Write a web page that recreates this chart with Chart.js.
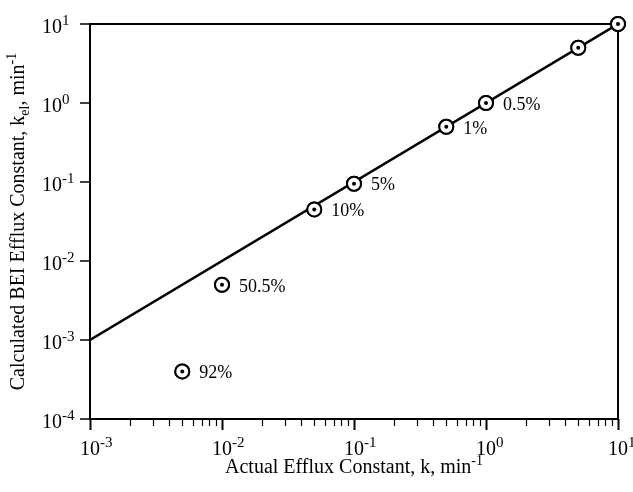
<!DOCTYPE html>
<html>
<head>
<meta charset="utf-8">
<script src="https://cdn.jsdelivr.net/npm/chart.js@4.4.1/dist/chart.umd.min.js"></script>
<style>
  html, body { margin: 0; padding: 0; background: #fff; }
  #wrap { width: 633px; height: 492px; }
</style>
</head>
<body>
<div id="wrap"><canvas id="c" width="633" height="492"></canvas></div>
<script>
// ---- data ----
const actualK     = [0.005, 0.01, 0.05, 0.1, 0.5, 1, 5, 10];
const calculatedK = [0.0004, 0.005, 0.045, 0.095, 0.5, 1, 5, 10];
const pointLabels = ['92%', '50.5%', '10%', '5%', '1%', '0.5%', '', ''];
const lineX = [0.001, 10];
const lineY = [0.001, 10];
const xTickExponents = [-3, -2, -1, 0, 1];
const yTickExponents = [-4, -3, -2, -1, 0, 1];
const xTitle = [{t: 'Actual Efflux Constant, k, min'}, {t: '-1', sup: true}];
const yTitle = [{t: 'Calculated BEI Efflux Constant, k'}, {t: 'el', sub: true}, {t: ', min'}, {t: '-1', sup: true}];

const FONT = '"Liberation Serif", "Times New Roman", serif';

const scatterPts = actualK.map((x, i) => ({x: x, y: calculatedK[i]}));
const linePts = lineX.map((x, i) => ({x: x, y: lineY[i]}));

function richWidth(ctx, segs, size, small) {
  let w = 0;
  for (const s of segs) {
    ctx.font = ((s.sup || s.sub) ? small : size) + 'px ' + FONT;
    w += ctx.measureText(s.t).width;
  }
  return w;
}
function drawRich(ctx, segs, x, y, size, small) {
  for (const s of segs) {
    ctx.font = ((s.sup || s.sub) ? small : size) + 'px ' + FONT;
    let dy = 0;
    if (s.sup) dy = -size * 0.42;
    if (s.sub) dy = size * 0.25;
    ctx.fillText(s.t, x, y + dy);
    x += ctx.measureText(s.t).width;
  }
}

const decor = {
  id: 'decor',
  afterDraw(chart) {
    const ctx = chart.ctx;
    const xs = chart.scales.x, ys = chart.scales.y;
    const ca = chart.chartArea;
    ctx.save();
    ctx.strokeStyle = '#000';
    ctx.fillStyle = '#000';
    ctx.lineCap = 'butt';

    // y ticks (major, outward left)
    ctx.lineWidth = 1.5;
    for (const e of yTickExponents) {
      const py = Math.round(ys.getPixelForValue(Math.pow(10, e)));
      ctx.beginPath(); ctx.moveTo(ca.left - 10, py); ctx.lineTo(ca.left, py); ctx.stroke();
    }
    // x ticks: major + minor downward
    for (let e = -3; e <= 1; e++) {
      for (let m = 1; m <= 9; m++) {
        const v = m * Math.pow(10, e);
        if (v > 10.0001) break;
        const px = Math.round(xs.getPixelForValue(v)) + 0.5;
        const len = (m === 1) ? 11 : 7;
        ctx.lineWidth = (m === 1) ? 2 : 1.2;
        ctx.beginPath(); ctx.moveTo(px, ca.bottom); ctx.lineTo(px, ca.bottom + len); ctx.stroke();
      }
    }

    // tick labels
    ctx.textBaseline = 'alphabetic';
    ctx.textAlign = 'left';
    const big = 20, small = 15;
    for (const e of yTickExponents) {
      const py = ys.getPixelForValue(Math.pow(10, e));
      drawRich(ctx, [{t: '10'}, {t: String(e), sup: true}], 42, py + 9, big, small);
    }
    for (const e of xTickExponents) {
      const px = xs.getPixelForValue(Math.pow(10, e));
      ctx.font = big + 'px ' + FONT;
      const bw = ctx.measureText('10').width;
      drawRich(ctx, [{t: '10'}, {t: String(e), sup: true}], px - bw / 2, ca.bottom + 36, big, small);
    }

    // axis titles
    const ts = 20, tsm = 14;
    const xw = richWidth(ctx, xTitle, ts, tsm);
    drawRich(ctx, xTitle, (ca.left + ca.right) / 2 - xw / 2, 473, ts, tsm);
    ctx.save();
    const yw = richWidth(ctx, yTitle, ts, tsm);
    ctx.translate(24, (ca.top + ca.bottom) / 2);
    ctx.rotate(-Math.PI / 2);
    drawRich(ctx, yTitle, -yw / 2, 0, ts, tsm);
    ctx.restore();

    // point labels
    const meta = chart.getDatasetMeta(1);
    ctx.font = '18px ' + FONT;
    ctx.textBaseline = 'middle';
    meta.data.forEach((el, i) => {
      if (pointLabels[i]) ctx.fillText(pointLabels[i], el.x + 17, el.y + 2);
    });
    ctx.restore();
  },
  afterDatasetsDraw(chart) {
    const ctx = chart.ctx;
    const ca = chart.chartArea;
    ctx.save();
    ctx.strokeStyle = '#000';
    ctx.lineWidth = 2;
    ctx.strokeRect(ca.left, ca.top, ca.right - ca.left, ca.bottom - ca.top);
    // redraw markers on top of frame, with centre dots
    const meta = chart.getDatasetMeta(1);
    meta.data.forEach((el) => {
      ctx.beginPath(); ctx.arc(el.x, el.y, 7, 0, Math.PI * 2);
      ctx.fillStyle = '#fff'; ctx.fill(); ctx.stroke();
      ctx.beginPath(); ctx.arc(el.x, el.y, 2, 0, Math.PI * 2);
      ctx.fillStyle = '#000'; ctx.fill();
    });
    ctx.restore();
  }
};

new Chart(document.getElementById('c'), {
  type: 'scatter',
  data: {
    datasets: [
      {
        type: 'line',
        data: linePts,
        borderColor: '#000',
        borderWidth: 2.5,
        pointRadius: 0,
        fill: false,
        tension: 0,
        order: 2
      },
      {
        data: scatterPts,
        pointRadius: 7,
        pointHoverRadius: 7,
        pointBackgroundColor: '#fff',
        pointBorderColor: '#000',
        pointBorderWidth: 2,
        clip: false,
        order: 1
      }
    ]
  },
  options: {
    responsive: false,
    animation: false,
    events: [],
    layout: { padding: { top: 24, right: 15, left: 0, bottom: 0 } },
    plugins: { legend: { display: false }, tooltip: { enabled: false } },
    scales: {
      x: {
        type: 'logarithmic', min: 0.001, max: 10,
        grid: { display: false }, border: { display: false },
        ticks: { display: false },
        afterFit(s) { s.height = 73; }
      },
      y: {
        type: 'logarithmic', min: 0.0001, max: 10,
        grid: { display: false }, border: { display: false },
        ticks: { display: false },
        afterFit(s) { s.width = 90; }
      }
    }
  },
  plugins: [decor]
});
</script>
</body>
</html>
